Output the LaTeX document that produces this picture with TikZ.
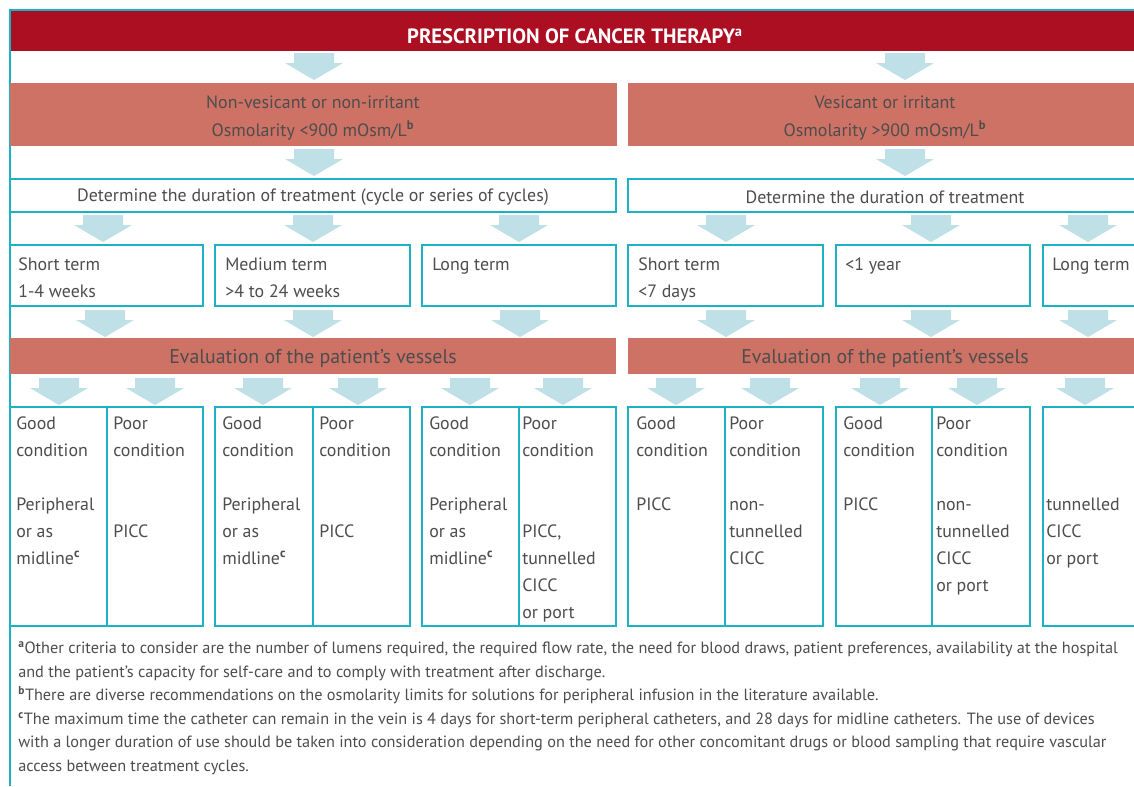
\documentclass[tikz,border=0pt]{standalone}
\usepackage{fontspec}
\setmainfont{PT Sans}
\usetikzlibrary{fit}
\definecolor{titlered}{HTML}{AD0F22}
\definecolor{salmon}{HTML}{CD7265}
\definecolor{arrowblue}{HTML}{BEE0E6}
\definecolor{framec}{HTML}{1AB3C6}
\definecolor{ink}{HTML}{4D4D4D}
\newcommand\sps[1]{\textsuperscript{\bfseries #1}}
\begin{document}
\begin{tikzpicture}[x=0.75pt,y=-0.75pt,
  box/.style={draw=framec,line width=1.5pt,inner sep=0pt},
  band/.style={fill=salmon,inner sep=0pt},
  redband/.style={fill=titlered,inner sep=0pt},
  txt/.style={text=ink,font=\fontsize{13.4}{20.3}\selectfont,inner sep=0pt,align=left,anchor=base west},
  ctr/.style={text=ink,font=\fontsize{13.4}{21}\selectfont,inner sep=0pt,align=center},
  evtxt/.style={text=ink,font=\fontsize{14.9}{18}\selectfont,inner sep=0pt,align=center},
  note/.style={text=ink,font=\fontsize{12.2}{17.7}\selectfont,inner sep=0pt,align=left,anchor=base west},
  barrow/.pic={\fill[arrowblue] (-20,0) -- (20,0) -- (20,10) -- (29,10) -- (0,27) -- (-29,10) -- (-20,10) -- cycle;}
]
\useasboundingbox (0,0) rectangle (1134,786);
\clip (0,0) rectangle (1134,786);
\fill[white] (0,0) rectangle (1134,786);

% title
\node[redband, fit={(10,11) (1140,51)}] (title) {};
\node[text=white,font=\fontsize{15.5}{18}\bfseries,inner sep=0pt] (titletxt) at (575,36) {PRESCRIPTION OF CANCER THERAPY\sps{a}};

% frame
\draw[framec,line width=1.5pt] (10,786) -- (10,10) -- (1140,10);

% row arrows 1
\pic at (314,53) {barrow};
\pic at (905,53) {barrow};

% drug type bands
\node[band, fit={(10,83) (617,146)}] (nv) {};
\node[band, fit={(628,83) (1140,146)}] (ves) {};
\node[ctr] (nvtxt) at (313,118) {Non-vesicant or non-irritant\\Osmolarity <900 mOsm/L\sps{b}};
\node[ctr] (vestxt) at (885,118) {Vesicant or irritant\\Osmolarity >900 mOsm/L\sps{b}};

\pic at (314,149) {barrow};
\pic at (905,149) {barrow};

% determine boxes
\node[box, fit={(10,179) (616,212)}] (detl) {};
\node[box, fit={(628,179) (1145,212)}] (detr) {};
\node[ctr] (detltxt) at (313,197.5) {Determine the duration of treatment (cycle or series of cycles)};
\node[ctr] (detrtxt) at (885,197.5) {Determine the duration of treatment};

\foreach \x in {103,313,519,726,931,1088} {\pic at (\x,215) {barrow};}

% term boxes
\node[box, fit={(10,245) (203,306)}] (t1) {};
\node[box, fit={(215,245) (410,306)}] (t2) {};
\node[box, fit={(422,245) (616,306)}] (t3) {};
\node[box, fit={(628,245) (823,306)}] (t4) {};
\node[box, fit={(836,245) (1030,306)}] (t5) {};
\node[box, fit={(1043,245) (1145,306)}] (t6) {};
\node[txt] (t1txt) at (18,297.5) {Short term\\1-4 weeks};
\node[txt] (t2txt) at (225,297.5) {Medium term\\>4 to 24 weeks};
\node[txt] (t3txt) at (432,270.5) {Long term};
\node[txt] (t4txt) at (638,297.5) {Short term\\<7 days};
\node[txt] (t5txt) at (845,270.5) {<1 year};
\node[txt] (t6txt) at (1052,270.5) {Long term};

\foreach \x in {105,313,520,726,931,1088} {\pic at (\x,310) {barrow};}

% evaluation bands
\node[band, fit={(10,338) (616,374)}] (evl) {};
\node[band, fit={(628,338) (1140,374)}] (evr) {};
\node[evtxt] (evltxt) at (313,358.5) {Evaluation of the patient’s vessels};
\node[evtxt] (evrtxt) at (885,358.5) {Evaluation of the patient’s vessels};

\foreach \x in {59,155,263,358,470,563,676,770,880,977,1085} {\pic at (\x,378) {barrow};}

% condition boxes
\node[box, fit={(10,407) (107,626)}] (g1) {};
\node[box, fit={(107,407) (203,626)}] (p1) {};
\node[box, fit={(215,407) (313,626)}] (g2) {};
\node[box, fit={(313,407) (410,626)}] (p2) {};
\node[box, fit={(422,407) (519,626)}] (g3) {};
\node[box, fit={(519,407) (616,626)}] (p3) {};
\node[box, fit={(628,407) (725,626)}] (g4) {};
\node[box, fit={(725,407) (823,626)}] (p4) {};
\node[box, fit={(836,407) (932,626)}] (g5) {};
\node[box, fit={(932,407) (1030,626)}] (p5) {};
\node[box, fit={(1043,407) (1145,626)}] (l6) {};

\node[txt] (g1txt) at (16,564.5) {Good\\condition\\[20.3pt]Peripheral\\or as\\midline\sps{c}};
\node[txt] (p1txt) at (113,537.5) {Poor\\condition\\[40.6pt]PICC};
\node[txt] (g2txt) at (222,564.5) {Good\\condition\\[20.3pt]Peripheral\\or as\\midline\sps{c}};
\node[txt] (p2txt) at (319,537.5) {Poor\\condition\\[40.6pt]PICC};
\node[txt] (g3txt) at (429,564.5) {Good\\condition\\[20.3pt]Peripheral\\or as\\midline\sps{c}};
\node[txt] (p3txt) at (522,618.5) {Poor\\condition\\[40.6pt]PICC,\\tunnelled\\CICC\\or port};
\node[txt] (g4txt) at (636,510.5) {Good\\condition\\[20.3pt]PICC};
\node[txt] (p4txt) at (729,564.5) {Poor\\condition\\[20.3pt]non-\\tunnelled\\CICC};
\node[txt] (g5txt) at (843,510.5) {Good\\condition\\[20.3pt]PICC};
\node[txt] (p5txt) at (936,591.5) {Poor\\condition\\[20.3pt]non-\\tunnelled\\CICC\\or port};
\node[txt] (l6txt) at (1046,564.5) {tunnelled\\CICC\\or port};

% footnotes
\node[note] (notes) at (18,771.5) {\sps{a}Other criteria to consider are the number of lumens required, the required flow rate, the need for blood draws, patient preferences, availability at the hospital\\
and the patient’s capacity for self-care and to comply with treatment after discharge.\\
\sps{b}There are diverse recommendations on the osmolarity limits for solutions for peripheral infusion in the literature available.\\
\sps{c}The maximum time the catheter can remain in the vein is 4 days for short-term peripheral catheters, and 28 days for midline catheters. The use of devices\\
with a longer duration of use should be taken into consideration depending on the need for other concomitant drugs or blood sampling that require vascular\\
access between treatment cycles.};
\end{tikzpicture}
\end{document}
